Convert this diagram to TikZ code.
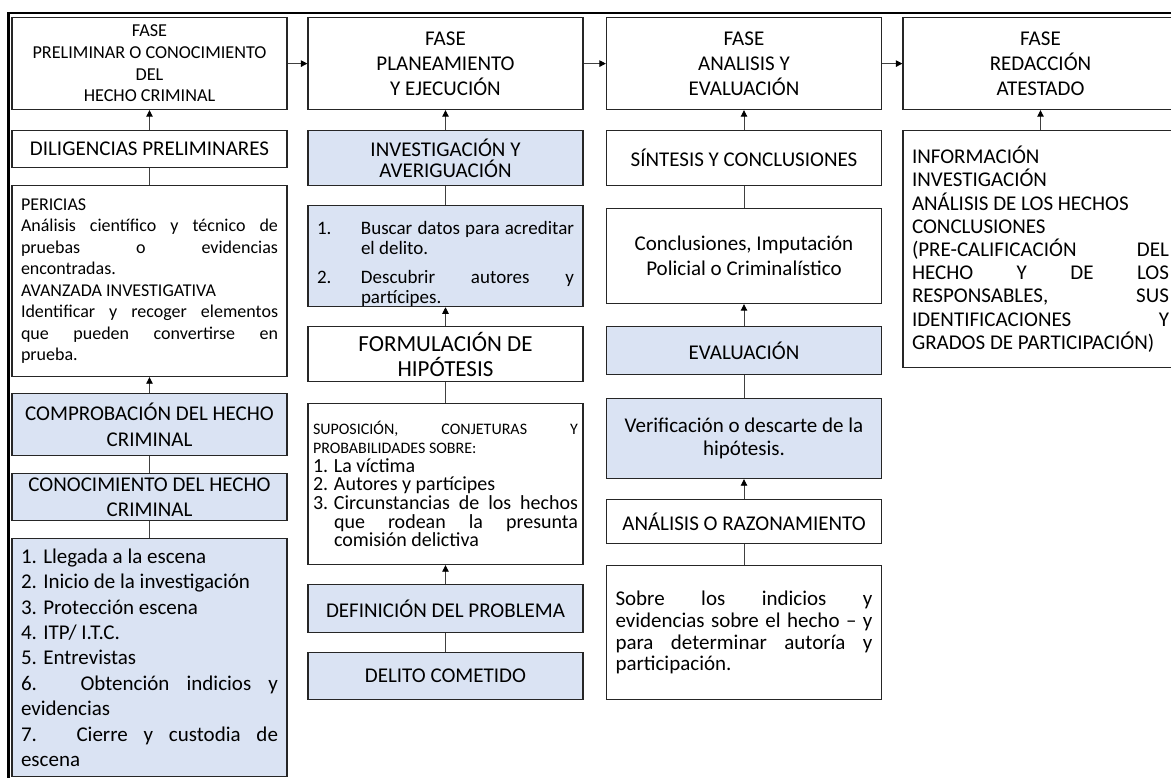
\documentclass[tikz,border=0pt]{standalone}
\usepackage{fontspec}
\setmainfont{Carlito}
\usepackage{tikz}
\usetikzlibrary{arrows.meta}
\definecolor{edge}{HTML}{262626}
\definecolor{wire}{HTML}{404040}
\definecolor{azul}{HTML}{DAE3F3}
\tolerance=9999
\hbadness=10000
\newcommand{\numitem}[2]{\par\noindent\hangindent=#1\hangafter=1\makebox[#1][l]{#2}}
\tikzset{
  caja/.style={draw=edge, line width=1.2pt, fill=white, minimum width=275pt, anchor=north,
    inner xsep=9pt, inner ysep=0pt, align=center, font={\fontsize{21}{25}\selectfont}},
  azulada/.style={caja, fill=azul},
  justo/.style={text width=257pt, align=justify},
  link/.style={draw=wire, line width=0.9pt},
  flecha/.style={link, -{Triangle[length=6.5pt,width=6.5pt,color=black]}},
  marco/.style={draw=black, line width=2.4pt},
}

\begin{document}
\begin{tikzpicture}[x=1pt,y=-1pt]
  \useasboundingbox (0,0) rectangle (1171,778);
  \clip (0,0) rectangle (1171,778);
  \draw[marco] (8.5,800) -- (8.5,12.8) -- (1200,12.8);

  % fases
  \node[caja, minimum height=92pt, font={\fontsize{18.2}{21.7}\selectfont}] (fase1) at (149.5,17)
    {FASE\\PRELIMINAR O CONOCIMIENTO\\DEL\\HECHO CRIMINAL};
  \node[caja, minimum height=92pt] (fase2) at (445.5,17) {FASE\\PLANEAMIENTO\\Y EJECUCIÓN};
  \node[caja, minimum height=92pt] (fase3) at (744,17) {FASE\\ANALISIS Y\\EVALUACIÓN};
  \node[caja, minimum height=92pt] (fase4) at (1040.5,17) {FASE\\REDACCIÓN\\ATESTADO};

  % columna 1
  \node[caja, minimum height=37pt] (dil) at (149.5,130) {DILIGENCIAS PRELIMINARES};
  \node[caja, justo, minimum height=191pt, font={\fontsize{18}{21.5}\selectfont}] (peric) at (149.5,185)
    {PERICIAS\par Análisis científico y técnico de\linebreak pruebas o evidencias\linebreak encontradas.\par
     AVANZADA INVESTIGATIVA\par Identificar y recoger elementos\linebreak que pueden convertirse en\linebreak prueba.\par};
  \node[azulada, minimum height=62pt, font={\fontsize{21}{26.5}\selectfont}] (comp) at (149.5,393)
    {COMPROBACIÓN DEL HECHO\\CRIMINAL};
  \node[azulada, minimum height=47pt] (conoc) at (149.5,473) {CONOCIMIENTO DEL HECHO\\CRIMINAL};
  \node[azulada, justo, minimum height=238pt, font={\fontsize{21}{25.4}\selectfont}] (pasos) at (149.5,538)
    {1. Llegada a la escena\par 2. Inicio de la investigación\par 3. Protección escena\par
     4. ITP/ I.T.C.\par 5. Entrevistas\par 6. Obtención indicios y\linebreak evidencias\par
     7. Cierre y custodia de\linebreak escena\par};

  % columna 2
  \node[azulada, minimum height=55pt, font={\fontsize{21}{20.5}\selectfont}] (inv) at (445.5,130)
    {INVESTIGACIÓN Y\\AVERIGUACIÓN};
  \node[azulada, justo, minimum height=100pt, font={\fontsize{19}{20}\selectfont}] (buscar) at (445.5,205)
    {\setlength{\parskip}{9pt}%
     \numitem{44pt}{1.}Buscar datos para acreditar\linebreak el delito.
     \numitem{44pt}{2.}Descubrir autores y\linebreak partícipes.\par};
  \node[caja, minimum height=55pt, font={\fontsize{23}{25}\selectfont}] (form) at (445.5,326)
    {FORMULACIÓN DE\\HIPÓTESIS};
  \node[caja, text width=265pt, inner xsep=5pt, align=justify, minimum height=161pt,
    font={\fontsize{16}{18.7}\selectfont}] (supos) at (445.5,403)
    {SUPOSICIÓN, CONJETURAS Y\linebreak PROBABILIDADES SOBRE:\par
     \fontsize{20}{18.7}\selectfont
     \numitem{21pt}{1.}La víctima
     \numitem{21pt}{2.}Autores y partícipes
     \numitem{21pt}{3.}Circunstancias de los hechos\linebreak que rodean la presunta\linebreak comisión delictiva\par};
  \node[azulada, minimum height=48pt] (defin) at (445.5,584) {DEFINICIÓN DEL PROBLEMA};
  \node[azulada, minimum height=47pt] (delito) at (445.5,652) {DELITO COMETIDO};

  % columna 3
  \node[caja, minimum height=55pt] (sint) at (744,130) {SÍNTESIS Y CONCLUSIONES};
  \node[caja, minimum height=95pt] (concl) at (744,208) {Conclusiones, Imputación\\Policial o Criminalístico};
  \node[azulada, minimum height=48pt] (eval) at (744,326) {EVALUACIÓN};
  \node[azulada, minimum height=80pt, font={\fontsize{21}{23.5}\selectfont}] (verif) at (744,398)
    {Verificación o descarte de la\\hipótesis.};
  \node[caja, minimum height=44pt] (anal) at (744,499) {ANÁLISIS O RAZONAMIENTO};
  \node[caja, justo, minimum height=134pt, font={\fontsize{21}{21.7}\selectfont}] (sobre) at (744,565)
    {Sobre los indicios y\linebreak evidencias sobre el hecho – y\linebreak para determinar autoría y\linebreak participación.\par};

  % columna 4
  \node[caja, justo, minimum height=237pt, font={\fontsize{21}{23.2}\selectfont}] (info) at (1040.5,130)
    {INFORMACIÓN\par INVESTIGACIÓN\par ANÁLISIS DE LOS HECHOS\par CONCLUSIONES\par
     (PRE-CALIFICACIÓN DEL\linebreak HECHO Y DE LOS\linebreak RESPONSABLES, SUS\linebreak
     IDENTIFICACIONES Y\linebreak GRADOS DE PARTICIPACIÓN)\par};

  % conectores
  \draw[flecha] (fase1) -- (fase2);
  \draw[flecha] (fase2) -- (fase3);
  \draw[flecha] (fase3) -- (fase4);

  \draw[flecha] (dil) -- (fase1);
  \draw[link] (peric) -- (dil);
  \draw[flecha] (comp) -- (peric);
  \draw[link] (conoc) -- (comp);
  \draw[link] (pasos) -- (conoc);

  \draw[flecha] (inv) -- (fase2);
  \draw[link] (buscar) -- (inv);
  \draw[flecha] (form) -- (buscar);
  \draw[link] (supos) -- (form);
  \draw[flecha] (defin) -- (supos);
  \draw[link] (delito) -- (defin);

  \draw[flecha] (sint) -- (fase3);
  \draw[link] (concl) -- (sint);
  \draw[flecha] (eval) -- (concl);
  \draw[link] (verif) -- (eval);
  \draw[flecha] (anal) -- (verif);
  \draw[link] (sobre) -- (anal);

  \draw[flecha] (info) -- (fase4);
\end{tikzpicture}
\end{document}
